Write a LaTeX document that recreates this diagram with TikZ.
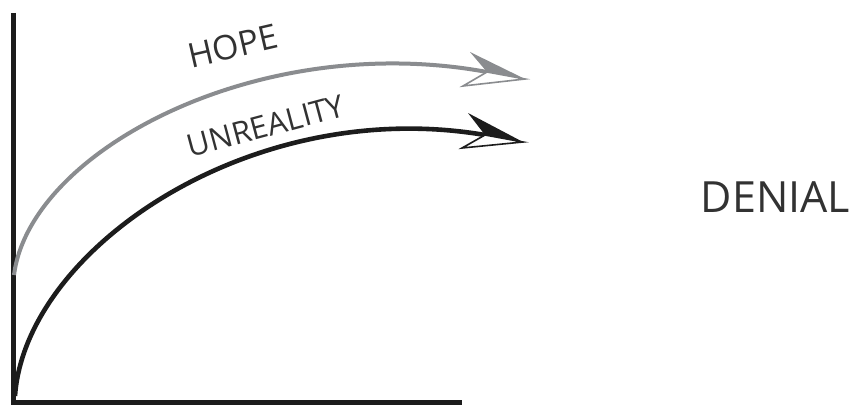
\documentclass[tikz,border=0pt]{standalone}
\usepackage{fontspec}
\setmainfont{Open Sans}
\definecolor{hopegray}{RGB}{138,140,143}
\definecolor{inkblack}{RGB}{28,28,28}
\definecolor{labelgray}{RGB}{50,50,50}
\tikzset{
  axisline/.style={line width=5pt, draw=inkblack, line join=miter},
  hopeline/.style={line width=4pt, draw=hopegray},
  realline/.style={line width=4.6pt, draw=inkblack},
  headfill/.style={fill=#1},
  headopen/.style={draw=#1, fill=white, line width=1.6pt, line join=miter},
  lbl/.style={text=labelgray, inner sep=0pt}
}
\begin{document}
\begin{tikzpicture}[x=1pt,y=-1pt]
\useasboundingbox[fill=white] (0,0) rectangle (866,412);
% axes
\coordinate (ytop) at (13,13);
\coordinate (orig) at (13,402);
\coordinate (xend) at (462,402);
\draw[axisline] (ytop) -- (orig) -- (xend);
% hope curve
\coordinate (hs) at (14,275);
\coordinate (hn) at (487,72);
\coordinate (ht) at (525,79);
\coordinate (hu) at (470,52);
\coordinate (hl) at (463,86);
\draw[hopeline] (hs) .. controls (30,150) and (260,30) .. (hn);
\fill[headfill=hopegray] (hu) -- (ht) -- (hn) -- cycle;
\draw[headopen=hopegray] (hn) -- (hl) -- (ht) -- cycle;
% unreality curve
\coordinate (rs) at (15,396);
\coordinate (rn) at (485,135);
\coordinate (rt) at (523,142);
\coordinate (ru) at (468,113);
\coordinate (rl) at (462,148);
\draw[realline] (rs) .. controls (25,250) and (250,95) .. (rn);
\fill[headfill=inkblack] (ru) -- (rt) -- (rn) -- cycle;
\draw[headopen=inkblack] (rn) -- (rl) -- (rt) -- cycle;
% labels
\node[lbl, rotate=13, font=\fontsize{34}{40}\selectfont] (hope) at (233,46) {HOPE};
\node[lbl, rotate=15, font=\fontsize{31}{37}\selectfont] (unreal) at (266,126) {UNREALITY};
\node[lbl, font=\fontsize{43}{50}\selectfont] (denial) at (775.5,197.5) {DENIAL};
\end{tikzpicture}
\end{document}
